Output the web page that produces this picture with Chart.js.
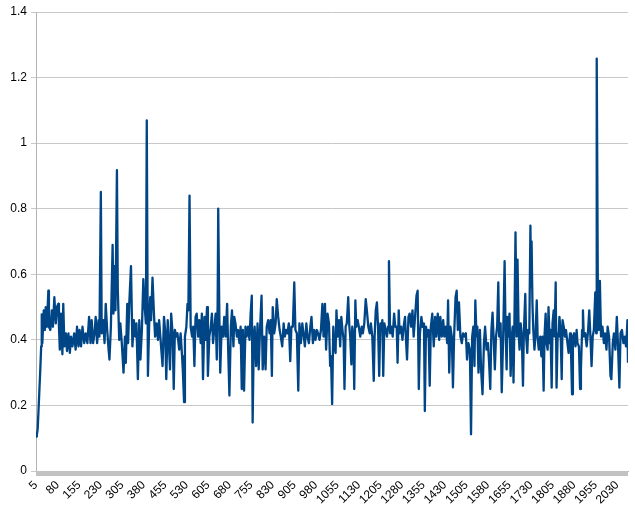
<!DOCTYPE html>
<html>
<head>
<meta charset="utf-8">
<script src="https://cdn.jsdelivr.net/npm/chart.js@4.4.1/dist/chart.umd.min.js"></script>
<style>
  body { margin: 0; background: #ffffff; }
  #wrap { width: 635px; height: 513px; }
</style>
</head>
<body>
<div id="wrap"><canvas id="lineChart"></canvas></div>
<script>
// category index of each sample
const categories = [
  5, 8, 11, 14, 17, 20, 23, 25, 27, 32, 36, 39, 43, 48, 50, 55, 60, 64, 69, 74,
  78, 83, 85, 88, 92, 97, 100, 104, 109, 113, 118, 123, 127, 132, 138, 143, 148, 153, 157, 162,
  167, 173, 178, 184, 190, 195, 199, 204, 209, 213, 218, 223, 226, 231, 234, 239, 244, 248, 253, 258,
  261, 266, 272, 275, 279, 282, 287, 290, 295, 299, 304, 310, 315, 318, 323, 326, 330, 336, 341, 346,
  351, 355, 360, 365, 369, 374, 379, 383, 388, 391, 395, 400, 403, 406, 411, 416, 420, 425, 430, 434,
  440, 446, 451, 455, 459, 464, 468, 472, 476, 481, 485, 489, 494, 498, 504, 509, 514, 517, 521, 524,
  529, 533, 536, 540, 544, 549, 553, 557, 561, 565, 570, 574, 579, 583, 587, 592, 596, 601, 604, 609,
  614, 618, 622, 627, 631, 635, 638, 640, 644, 647, 652, 657, 661, 666, 671, 675, 679, 684, 688, 693,
  696, 700, 705, 709, 714, 718, 722, 726, 730, 735, 739, 744, 749, 753, 757, 760, 764, 767, 772, 777,
  781, 786, 791, 795, 800, 805, 809, 814, 819, 823, 827, 830, 835, 840, 844, 849, 854, 858, 863, 868,
  872, 877, 881, 886, 891, 895, 900, 905, 909, 914, 919, 923, 928, 933, 937, 942, 947, 951, 956, 961,
  965, 970, 975, 979, 984, 988, 993, 998, 1003, 1007, 1012, 1016, 1021, 1026, 1030, 1033, 1037, 1041, 1044, 1049,
  1052, 1056, 1061, 1065, 1069, 1073, 1077, 1080, 1084, 1088, 1093, 1097, 1100, 1104, 1107, 1111, 1114, 1118, 1121, 1126,
  1130, 1135, 1140, 1144, 1149, 1154, 1158, 1163, 1168, 1172, 1177, 1182, 1185, 1189, 1193, 1197, 1201, 1205, 1208, 1212,
  1215, 1219, 1224, 1228, 1232, 1235, 1239, 1243, 1248, 1253, 1257, 1262, 1265, 1269, 1272, 1277, 1282, 1286, 1291, 1295,
  1298, 1303, 1307, 1312, 1317, 1321, 1326, 1331, 1335, 1339, 1343, 1348, 1352, 1357, 1360, 1364, 1369, 1373, 1377, 1381,
  1386, 1391, 1396, 1400, 1405, 1410, 1414, 1419, 1424, 1428, 1433, 1438, 1441, 1445, 1449, 1454, 1458, 1462, 1467, 1471,
  1475, 1479, 1484, 1489, 1493, 1498, 1503, 1507, 1512, 1517, 1521, 1525, 1529, 1533, 1536, 1540, 1543, 1547, 1552, 1556,
  1561, 1566, 1570, 1575, 1580, 1584, 1588, 1592, 1596, 1600, 1604, 1608, 1612, 1616, 1619, 1624, 1628, 1633, 1638, 1641,
  1645, 1648, 1652, 1655, 1659, 1663, 1666, 1669, 1672, 1676, 1680, 1683, 1687, 1690, 1694, 1698, 1702, 1705, 1710, 1713,
  1717, 1720, 1724, 1728, 1730, 1732, 1735, 1738, 1742, 1746, 1750, 1753, 1757, 1762, 1766, 1770, 1774, 1777, 1781, 1784,
  1788, 1791, 1795, 1798, 1802, 1805, 1809, 1812, 1816, 1819, 1823, 1826, 1829, 1833, 1837, 1840, 1844, 1848, 1852, 1857,
  1861, 1866, 1869, 1873, 1876, 1880, 1885, 1889, 1892, 1897, 1901, 1904, 1908, 1911, 1914, 1919, 1924, 1929, 1933, 1938,
  1941, 1945, 1949, 1954, 1957, 1959, 1963, 1966, 1970, 1974, 1979, 1984, 1988, 1993, 1997, 2002, 2007, 2010, 2015, 2019,
  2024, 2029, 2033, 2038, 2042, 2047, 2052, 2057, 2061, 2064, 2066, 2068
];

// series value at each of those categories
const values = [
  0.105, 0.11, 0.13, 0.19, 0.25, 0.31, 0.38, 0.478, 0.39, 0.49, 0.43, 0.50, 0.44, 0.55, 0.44, 0.43, 0.49, 0.44, 0.53, 0.45,
  0.50, 0.51, 0.44, 0.37, 0.48, 0.356, 0.51, 0.38, 0.42, 0.366, 0.42, 0.36, 0.41, 0.38, 0.42, 0.37, 0.44, 0.38, 0.43, 0.38,
  0.44, 0.39, 0.42, 0.39, 0.47, 0.39, 0.46, 0.39, 0.42, 0.47, 0.39, 0.46, 0.41, 0.851, 0.42, 0.46, 0.39, 0.51, 0.43, 0.37,
  0.34, 0.44, 0.69, 0.48, 0.625, 0.49, 0.918, 0.555, 0.40, 0.45, 0.39, 0.30, 0.41, 0.33, 0.51, 0.39, 0.51, 0.625, 0.38, 0.46,
  0.41, 0.45, 0.28, 0.46, 0.34, 0.43, 0.585, 0.51, 0.45, 1.069, 0.29, 0.47, 0.53, 0.46, 0.59, 0.48, 0.41, 0.45, 0.40, 0.46,
  0.39, 0.32, 0.47, 0.43, 0.28, 0.46, 0.39, 0.31, 0.48, 0.42, 0.25, 0.43, 0.41, 0.42, 0.37, 0.42, 0.35, 0.30, 0.21, 0.41,
  0.44, 0.51, 0.49, 0.84, 0.44, 0.41, 0.44, 0.32, 0.47, 0.48, 0.41, 0.46, 0.39, 0.48, 0.28, 0.47, 0.40, 0.50, 0.29, 0.41,
  0.44, 0.48, 0.39, 0.44, 0.48, 0.34, 0.51, 0.80, 0.47, 0.30, 0.44, 0.41, 0.47, 0.41, 0.51, 0.36, 0.23, 0.44, 0.49, 0.38,
  0.47, 0.45, 0.41, 0.43, 0.39, 0.44, 0.25, 0.43, 0.245, 0.44, 0.41, 0.44, 0.40, 0.48, 0.535, 0.148, 0.41, 0.44, 0.32, 0.45,
  0.31, 0.44, 0.535, 0.31, 0.41, 0.31, 0.44, 0.46, 0.42, 0.46, 0.29, 0.50, 0.42, 0.45, 0.524, 0.47, 0.43, 0.41, 0.38, 0.45,
  0.41, 0.43, 0.42, 0.45, 0.335, 0.44, 0.44, 0.575, 0.43, 0.42, 0.245, 0.45, 0.39, 0.45, 0.42, 0.38, 0.45, 0.41, 0.39, 0.44,
  0.47, 0.39, 0.43, 0.40, 0.43, 0.42, 0.40, 0.43, 0.51, 0.41, 0.51, 0.37, 0.48, 0.45, 0.32, 0.35, 0.204, 0.44, 0.39, 0.36,
  0.49, 0.41, 0.46, 0.38, 0.47, 0.43, 0.40, 0.25, 0.44, 0.45, 0.53, 0.44, 0.41, 0.325, 0.44, 0.41, 0.25, 0.52, 0.44, 0.46,
  0.44, 0.41, 0.44, 0.42, 0.45, 0.524, 0.49, 0.44, 0.42, 0.45, 0.41, 0.275, 0.41, 0.49, 0.514, 0.44, 0.29, 0.45, 0.43, 0.46,
  0.29, 0.45, 0.43, 0.41, 0.44, 0.64, 0.42, 0.44, 0.41, 0.48, 0.44, 0.44, 0.33, 0.49, 0.42, 0.44, 0.40, 0.44, 0.47, 0.39,
  0.34, 0.47, 0.48, 0.44, 0.49, 0.41, 0.47, 0.535, 0.55, 0.25, 0.42, 0.47, 0.44, 0.45, 0.183, 0.44, 0.41, 0.43, 0.26, 0.44,
  0.48, 0.38, 0.47, 0.41, 0.48, 0.40, 0.47, 0.41, 0.46, 0.41, 0.44, 0.39, 0.52, 0.30, 0.44, 0.41, 0.255, 0.41, 0.53, 0.55,
  0.43, 0.514, 0.41, 0.39, 0.42, 0.41, 0.42, 0.34, 0.39, 0.37, 0.112, 0.41, 0.44, 0.32, 0.52, 0.41, 0.44, 0.30, 0.43, 0.31,
  0.234, 0.39, 0.44, 0.37, 0.39, 0.33, 0.25, 0.43, 0.483, 0.40, 0.31, 0.41, 0.44, 0.575, 0.41, 0.45, 0.24, 0.41, 0.64, 0.45,
  0.31, 0.47, 0.41, 0.48, 0.29, 0.41, 0.44, 0.27, 0.44, 0.728, 0.41, 0.645, 0.42, 0.37, 0.45, 0.41, 0.26, 0.42, 0.54, 0.41,
  0.36, 0.43, 0.42, 0.748, 0.56, 0.70, 0.51, 0.43, 0.37, 0.42, 0.52, 0.41, 0.37, 0.41, 0.35, 0.41, 0.245, 0.41, 0.48, 0.39,
  0.37, 0.50, 0.39, 0.43, 0.254, 0.45, 0.49, 0.41, 0.575, 0.254, 0.42, 0.41, 0.47, 0.43, 0.28, 0.46, 0.44, 0.41, 0.43, 0.39,
  0.36, 0.42, 0.38, 0.234, 0.41, 0.42, 0.38, 0.43, 0.39, 0.38, 0.25, 0.31, 0.43, 0.49, 0.41, 0.42, 0.38, 0.43, 0.49, 0.39,
  0.32, 0.41, 0.43, 0.545, 0.42, 1.258, 0.535, 0.43, 0.58, 0.41, 0.44, 0.39, 0.42, 0.37, 0.44, 0.41, 0.29, 0.28, 0.39, 0.42,
  0.37, 0.47, 0.39, 0.254, 0.42, 0.43, 0.39, 0.41, 0.38, 0.42, 0.46, 0.33
];

// labelled ticks on each axis
const xTickValues = [5, 80, 155, 230, 305, 380, 455, 530, 605, 680, 755, 830, 905, 980,
  1055, 1130, 1205, 1280, 1355, 1430, 1505, 1580, 1655, 1730, 1805, 1880, 1955, 2030];
const yTickValues = [0, 0.2, 0.4, 0.6, 0.8, 1, 1.2, 1.4];
const xFirst = 5;
const xLast = 2068;

/*
*   Every category has its own small tick mark below the axis,
*   so at this width they blend into a grey strip
*/
const categoryTickStrip = {
  id: 'categoryTickStrip',
  beforeDatasetsDraw(chart) {
    const xs = chart.scales.x;
    const ctx = chart.ctx;
    ctx.save();
    ctx.fillStyle = '#c2c2c2';
    const left = xs.getPixelForValue(xFirst);
    const right = xs.getPixelForValue(xLast);
    ctx.fillRect(left, xs.top, right - left, 5);
    ctx.restore();
  }
};

const points = categories.map((c, i) => ({ x: c, y: values[i] }));

new Chart(document.getElementById('lineChart').getContext('2d'), {
  type: 'line',
  data: {
    datasets: [{
      data: points,
      borderColor: '#004586',
      borderWidth: 2.3,
      borderJoinStyle: 'round',
      pointRadius: 0,
      tension: 0,
      fill: false
    }]
  },
  options: {
    responsive: true,
    maintainAspectRatio: false,
    animation: false,
    layout: { padding: { top: 12, right: 7, left: 0, bottom: 0 } },
    plugins: {
      legend: { display: false },
      tooltip: { enabled: false }
    },
    scales: {
      x: {
        type: 'linear',
        min: xFirst,
        max: xLast,
        afterBuildTicks: (scale) => {
          scale.ticks = xTickValues.map(v => ({ value: v }));
        },
        afterFit: (scale) => { scale.height = 42; },
        border: { color: '#b3b3b3', width: 1 },
        grid: { drawOnChartArea: false, drawTicks: true, tickLength: 5, color: '#b3b3b3' },
        ticks: {
          autoSkip: false,
          minRotation: 45,
          maxRotation: 45,
          padding: 2,
          color: '#000000',
          font: { family: 'Liberation Sans', size: 12 },
          callback: (v) => String(v)
        }
      },
      y: {
        min: 0,
        max: 1.4,
        afterBuildTicks: (scale) => {
          scale.ticks = yTickValues.map(v => ({ value: v }));
        },
        afterFit: (scale) => { scale.width = 36; },
        border: { color: '#b3b3b3', width: 1 },
        grid: { color: '#c8c8c8', tickLength: 5, drawTicks: true },
        ticks: {
          padding: 4,
          color: '#000000',
          font: { family: 'Liberation Sans', size: 12 },
          callback: (v) => String(v)
        }
      }
    }
  },
  plugins: [categoryTickStrip]
});
</script>
</body>
</html>
